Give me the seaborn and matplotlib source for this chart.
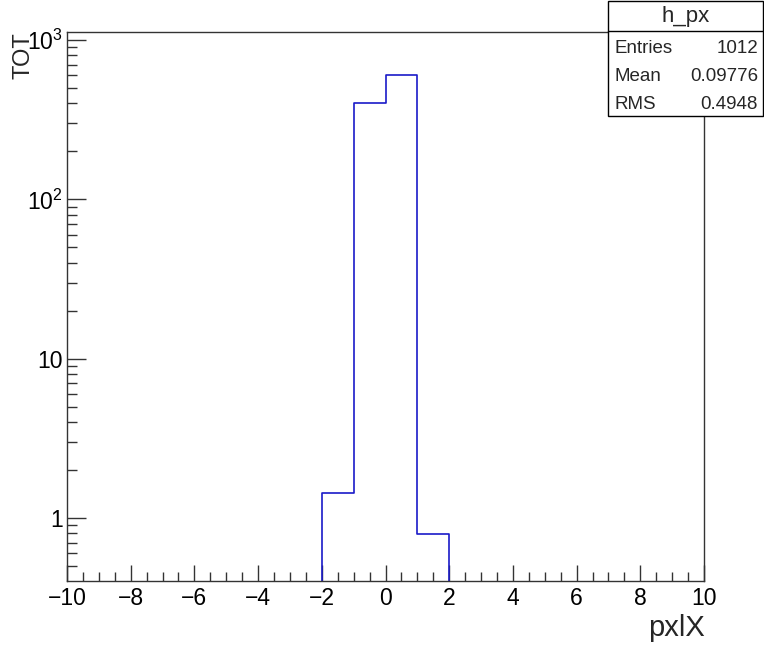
import numpy as np
import pandas as pd
import matplotlib
matplotlib.use("Agg")
import matplotlib.pyplot as plt
import seaborn as sns
from matplotlib.ticker import MultipleLocator, FixedLocator, FixedFormatter, LogLocator, NullFormatter

# Data: bins of width 1 from -10 to 10
bin_centers = [-9.5, -8.5, -7.5, -6.5, -5.5, -4.5, -3.5, -2.5, -1.5, -0.5,
               0.5, 1.5, 2.5, 3.5, 4.5, 5.5, 6.5, 7.5, 8.5, 9.5]
bin_counts = [0, 0, 0, 0, 0, 0, 0, 0, 1.44, 402,
              603, 0.79, 0, 0, 0, 0, 0, 0, 0, 0]
y_tick_values = [1, 10, 100, 1000]
y_tick_labels = ["1", "10", r"$\mathregular{10^{2}}$", r"$\mathregular{10^{3}}$"]
x_tick_values = [-10, -8, -6, -4, -2, 0, 2, 4, 6, 8, 10]
x_tick_labels = ["\u221210", "\u22128", "\u22126", "\u22124", "\u22122", "0", "2", "4", "6", "8", "10"]
stats_title = "h_px"
stats_rows = [("Entries", "1012"), ("Mean", "0.09776"), ("RMS", "0.4948")]

sns.set_style("ticks")
plt.rcParams["font.family"] = ["Liberation Sans", "DejaVu Sans"]

df = pd.DataFrame({"pxlX": bin_centers, "w": bin_counts})

fig = plt.figure(figsize=(7.64, 6.48), dpi=100)
ax = fig.add_axes([67 / 764, 1 - 581 / 648, (704 - 67) / 764, (581 - 32) / 648])
ax.set_yscale("log")
sns.histplot(data=df, x="pxlX", weights="w", binwidth=1, binrange=(-10, 10),
             element="step", fill=False, color="#1a1ac8", linewidth=1.2, ax=ax)

ax.set_xlim(-10, 10)
ax.set_ylim(0.402, 1123)

ax.xaxis.set_major_locator(FixedLocator(x_tick_values))
ax.xaxis.set_major_formatter(FixedFormatter(x_tick_labels))
ax.xaxis.set_minor_locator(MultipleLocator(0.5))
ax.yaxis.set_major_locator(FixedLocator(y_tick_values))
ax.yaxis.set_major_formatter(FixedFormatter(y_tick_labels))
ax.yaxis.set_minor_locator(LogLocator(base=10, subs=np.arange(2, 10), numticks=20))
ax.yaxis.set_minor_formatter(NullFormatter())

ax.tick_params(axis="x", which="major", direction="in", length=11.5, width=1.0,
               labelsize=16.5, pad=4, color="#333333", labelcolor="black")
ax.tick_params(axis="x", which="minor", direction="in", length=6.3, width=1.0, color="#333333")
ax.tick_params(axis="y", which="major", direction="in", length=13.7, width=1.0,
               labelsize=16.5, pad=3, color="#333333", labelcolor="black")
ax.tick_params(axis="y", which="minor", direction="in", length=7, width=1.0, color="#333333")
ax.tick_params(top=False, right=False, which="both")
for s in ax.spines.values():
    s.set_color("#333333")
    s.set_linewidth(1.0)

ax.set_xlabel("")
ax.set_ylabel("")
fig.text(705 / 764, 1 - 628 / 648, "pxlX", ha="right", va="center", fontsize=21)
fig.text(24 / 764, 1 - 56 / 648, "TOT", ha="center", va="center", rotation=90, fontsize=17)

# Stats box
bx0, bx1 = 608 / 764, 763 / 764
by_top, by_bot = 1 - 1 / 648, 1 - 116 / 648
row_h = (by_top - by_bot) / 4
fig.patches.append(plt.Rectangle((bx0, by_bot), bx1 - bx0, by_top - by_bot,
                                 transform=fig.transFigure, fill=True, facecolor="white",
                                 edgecolor="black", linewidth=1.0, zorder=5))
fig.lines.append(plt.Line2D([bx0, bx1], [by_top - row_h * 1.05] * 2,
                            transform=fig.transFigure, color="black", linewidth=1.0, zorder=6))
fig.text((bx0 + bx1) / 2, by_top - row_h * 0.55, stats_title, ha="center", va="center",
         fontsize=16, zorder=7)
for i, (k, v) in enumerate(stats_rows):
    yy = by_top - row_h * (1.66 + i * 0.97)
    fig.text(bx0 + 7 / 764, yy, k, ha="left", va="center", fontsize=13.5, zorder=7)
    fig.text(bx1 - 5 / 764, yy, v, ha="right", va="center", fontsize=13.5, zorder=7)

fig.savefig("out.png", dpi=100)
